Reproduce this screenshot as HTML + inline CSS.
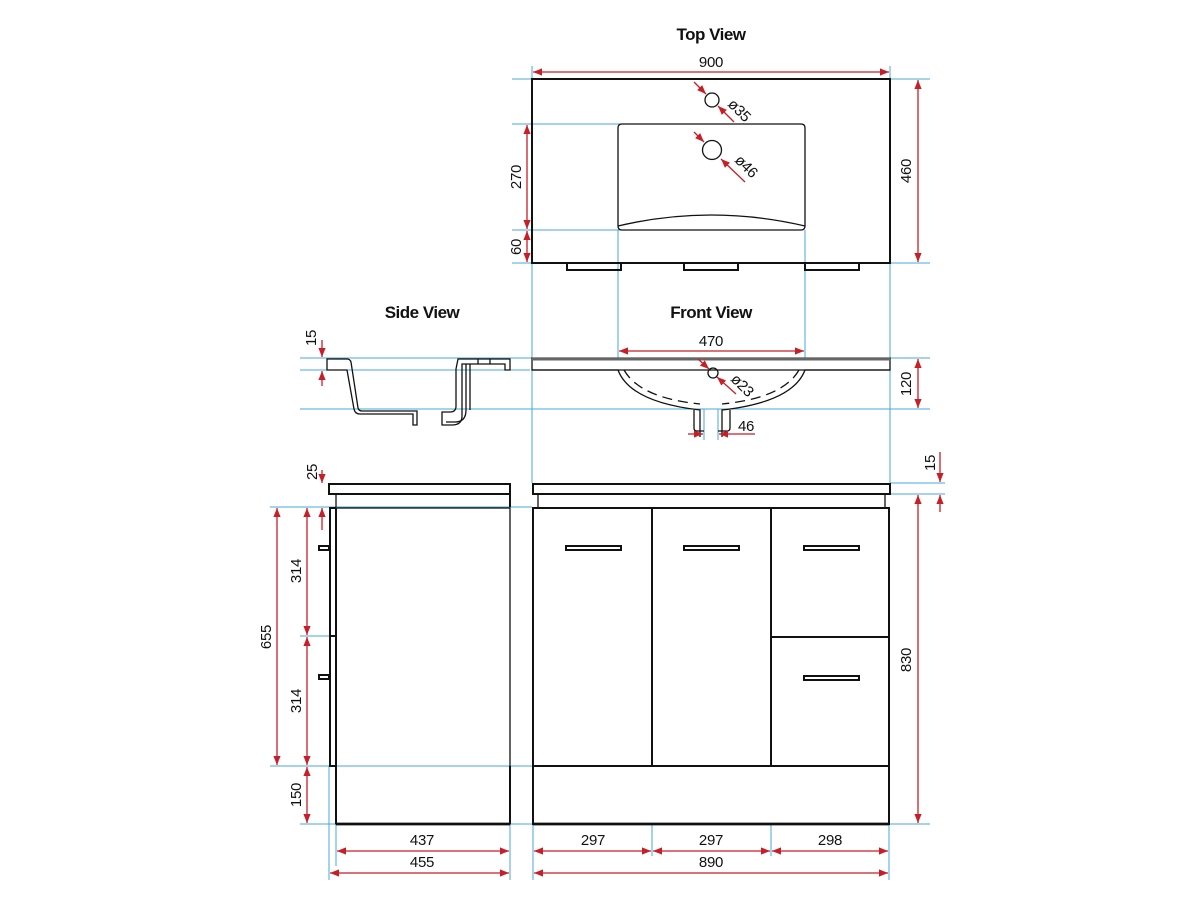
<!DOCTYPE html>
<html><head><meta charset="utf-8"><style>
html,body{margin:0;padding:0;background:#fff}
svg{display:block}
text{font-family:"Liberation Sans Narrow","Liberation Sans",sans-serif;font-size:15px;fill:#111;letter-spacing:-0.3px}
.t{font-weight:bold;font-size:17px;letter-spacing:-0.5px}
.c{stroke:#4aa8d8;stroke-width:1;fill:none}
.r{stroke:#c81e28;stroke-width:1.3;fill:none}
.k{stroke:#111;stroke-width:2;fill:none}
.kt{stroke:#111;stroke-width:1.3;fill:none}
</style></head><body>
<svg width="1200" height="900" viewBox="0 0 1200 900" xmlns="http://www.w3.org/2000/svg">
<defs>
<marker id="a" viewBox="0 0 10 10" refX="10" refY="5" markerWidth="9" markerHeight="9" orient="auto-start-reverse" markerUnits="userSpaceOnUse"><path d="M0,1 L10,5 L0,9 z" fill="#c81e28"/></marker>
</defs>

<text class="t" x="711" y="40" text-anchor="middle">Top View</text>
<text class="t" x="422" y="318" text-anchor="middle">Side View</text>
<text class="t" x="711" y="318" text-anchor="middle">Front View</text>

<g class="c">
<line x1="512" y1="79" x2="930" y2="79"/>
<line x1="512" y1="263" x2="930" y2="263"/>
<line x1="512" y1="124" x2="710" y2="124"/>
<line x1="512" y1="230" x2="710" y2="230"/>
<line x1="532" y1="66" x2="532" y2="483"/>
<line x1="890" y1="66" x2="890" y2="483"/>
<line x1="618" y1="230" x2="618" y2="358"/>
<line x1="805" y1="230" x2="805" y2="358"/>
<line x1="300" y1="358" x2="930" y2="358"/>
<line x1="300" y1="370" x2="530" y2="370"/>
<line x1="300" y1="409" x2="930" y2="409"/>
<line x1="704" y1="409" x2="704" y2="440"/>
<line x1="718" y1="409" x2="718" y2="440"/>
<line x1="890" y1="483" x2="945" y2="483"/>
<line x1="890" y1="494" x2="945" y2="494"/>
<line x1="270" y1="507" x2="532" y2="507"/>
<line x1="270" y1="766" x2="534" y2="766"/>
<line x1="300" y1="824" x2="930" y2="824"/>
<line x1="300" y1="636" x2="336" y2="636"/>
<line x1="329" y1="766" x2="329" y2="880"/>
<line x1="336" y1="824" x2="336" y2="866"/>
<line x1="510" y1="824" x2="510" y2="880"/>
<line x1="533" y1="824" x2="533" y2="880"/>
<line x1="652" y1="824" x2="652" y2="856"/>
<line x1="771" y1="824" x2="771" y2="856"/>
<line x1="889" y1="824" x2="889" y2="880"/>
</g>

<!-- TOP VIEW -->
<rect x="532" y="79" width="358" height="184" class="k"/>
<path d="M622,124 H801 Q805,124 805,128 V226 Q805,230 801,230 H622 Q618,230 618,226 V128 Q618,124 622,124 Z" class="kt"/>
<path d="M618,226 Q711,204 805,226" class="kt"/>
<circle cx="712" cy="100" r="7" class="kt"/>
<circle cx="712" cy="150" r="9.5" class="kt"/>
<g class="k" stroke-width="2.2">
<rect x="567" y="263" width="54" height="7"/>
<rect x="684" y="263" width="54" height="7"/>
<rect x="805" y="263" width="54" height="7"/>
</g>
<g class="r">
<line x1="533" y1="72" x2="889" y2="72" marker-start="url(#a)" marker-end="url(#a)"/>
<line x1="918" y1="80" x2="918" y2="262" marker-start="url(#a)" marker-end="url(#a)"/>
<line x1="527" y1="125" x2="527" y2="229" marker-start="url(#a)" marker-end="url(#a)"/>
<line x1="527" y1="231" x2="527" y2="262" marker-start="url(#a)" marker-end="url(#a)"/>
<line x1="694" y1="82" x2="706" y2="94" marker-end="url(#a)"/>
<line x1="734" y1="122" x2="718" y2="106" marker-end="url(#a)"/>
<line x1="694" y1="132" x2="704" y2="142" marker-end="url(#a)"/>
<line x1="745" y1="182" x2="721" y2="159" marker-end="url(#a)"/>
</g>
<text x="711" y="67" text-anchor="middle">900</text>
<text transform="translate(911,171) rotate(-90)" text-anchor="middle">460</text>
<text transform="translate(521,177) rotate(-90)" text-anchor="middle">270</text>
<text transform="translate(521,247) rotate(-90)" text-anchor="middle">60</text>
<text transform="translate(727,105) rotate(45)" font-size="15">ø35</text>
<text transform="translate(734,161) rotate(45)" font-size="15">ø46</text>

<!-- FRONT VIEW basin -->
<path d="M532,358 H890 V370 H532 Z" class="kt" fill="#fff"/>
<line x1="532" y1="359" x2="890" y2="359" stroke="#666" stroke-width="3"/>
<path d="M532,370 H618 Q630,402 700,410 V437" class="kt"/>
<path d="M890,370 H805 Q793,402 722,410 V437" class="kt"/>
<path d="M694,410 V428 Q694,431 697,431 H704" class="kt"/>
<path d="M730,410 V428 Q730,431 727,431 H718" class="kt"/>
<path d="M624,370 Q640,398 700,404" class="kt" stroke-dasharray="10,6"/>
<path d="M799,370 Q783,398 722,404" class="kt" stroke-dasharray="10,6"/>
<circle cx="713" cy="373" r="5" class="kt"/>
<g class="r">
<line x1="619" y1="351" x2="804" y2="351" marker-start="url(#a)" marker-end="url(#a)"/>
<line x1="918" y1="359" x2="918" y2="408" marker-start="url(#a)" marker-end="url(#a)"/>
<line x1="698" y1="359" x2="709" y2="369" marker-end="url(#a)"/>
<line x1="736" y1="394" x2="717" y2="377" marker-end="url(#a)"/>
<line x1="688" y1="434" x2="703" y2="434" marker-end="url(#a)"/>
<line x1="755" y1="434" x2="719" y2="434" marker-end="url(#a)"/>
</g>
<text x="711" y="346" text-anchor="middle">470</text>
<text transform="translate(911,384) rotate(-90)" text-anchor="middle">120</text>
<text transform="translate(730,380) rotate(45)" font-size="15">ø23</text>
<text x="746" y="431" text-anchor="middle">46</text>

<!-- SIDE VIEW basin -->
<path d="M327,359 H347 Q350,359 351,362 L358,408 Q359,411 362,411 H417 V425 H413 V414 H360 Q355,414 354,409 L347,370 H327 Z" class="kt"/>
<path d="M458,359 H510 V370 H505 V364 H462 V369 L462,416 Q462,425 452,425 H442 V412 H450 Q456,412 456,406 V369 Z" class="kt"/>
<path d="M466,364 V410 Q466,422 455,422 H446" class="kt"/>
<path d="M470,364 V410" class="kt"/>
<line x1="478" y1="359" x2="478" y2="364" class="kt"/>
<line x1="490" y1="359" x2="490" y2="364" class="kt"/>
<g class="r">
<line x1="322" y1="340" x2="322" y2="357" marker-end="url(#a)"/>
<line x1="322" y1="386" x2="322" y2="371" marker-end="url(#a)"/>
</g>
<text transform="translate(316,338) rotate(-90)" text-anchor="middle">15</text>

<!-- LOWER FRONT -->
<rect x="533" y="484" width="357" height="10" class="k" stroke-width="2.2"/>
<line x1="538" y1="494" x2="538" y2="507" class="kt"/>
<line x1="885" y1="494" x2="885" y2="507" class="kt"/>
<rect x="533" y="508" width="356" height="316" class="k"/>
<line x1="533" y1="824" x2="889" y2="824" stroke="#111" stroke-width="2.8"/>
<line x1="652" y1="508" x2="652" y2="766" class="k"/>
<line x1="771" y1="508" x2="771" y2="766" class="k"/>
<line x1="771" y1="637" x2="889" y2="637" class="k" stroke-width="2.5"/>
<line x1="533" y1="766" x2="889" y2="766" class="k" stroke-width="2.2"/>
<g class="k" stroke-width="2">
<rect x="566" y="546" width="55" height="4"/>
<rect x="684" y="546" width="55" height="4"/>
<rect x="804" y="546" width="55" height="4"/>
<rect x="804" y="676" width="55" height="4"/>
</g>
<g class="r">
<line x1="940" y1="452" x2="940" y2="482" marker-end="url(#a)"/>
<line x1="940" y1="512" x2="940" y2="495" marker-end="url(#a)"/>
<line x1="918" y1="495" x2="918" y2="823" marker-start="url(#a)" marker-end="url(#a)"/>
<line x1="534" y1="851" x2="651" y2="851" marker-start="url(#a)" marker-end="url(#a)"/>
<line x1="653" y1="851" x2="770" y2="851" marker-start="url(#a)" marker-end="url(#a)"/>
<line x1="772" y1="851" x2="888" y2="851" marker-start="url(#a)" marker-end="url(#a)"/>
<line x1="534" y1="873" x2="888" y2="873" marker-start="url(#a)" marker-end="url(#a)"/>
</g>
<text transform="translate(935,463) rotate(-90)" text-anchor="middle">15</text>
<text transform="translate(911,660) rotate(-90)" text-anchor="middle">830</text>
<text x="593" y="845" text-anchor="middle">297</text>
<text x="711" y="845" text-anchor="middle">297</text>
<text x="830" y="845" text-anchor="middle">298</text>
<text x="711" y="867" text-anchor="middle">890</text>

<!-- LOWER SIDE -->
<rect x="329" y="484" width="181" height="10" class="k" stroke-width="2.2"/>
<line x1="336" y1="494" x2="336" y2="507" class="kt"/>
<line x1="510" y1="494" x2="510" y2="507" class="k"/>
<rect x="336" y="508" width="174" height="316" class="kt"/>
<line x1="336" y1="508" x2="336" y2="824" class="k"/>
<line x1="336" y1="824" x2="510" y2="824" stroke="#111" stroke-width="2.8"/>
<line x1="510" y1="766" x2="510" y2="824" class="k"/>
<path d="M336,508 H330 V766 H336" class="k"/>
<line x1="330" y1="636" x2="336" y2="636" class="k"/>
<rect x="319" y="546" width="10" height="4" class="k"/>
<rect x="319" y="675" width="10" height="4" class="k"/>
<g class="r">
<line x1="277" y1="508" x2="277" y2="765" marker-start="url(#a)" marker-end="url(#a)"/>
<line x1="307" y1="508" x2="307" y2="635" marker-start="url(#a)" marker-end="url(#a)"/>
<line x1="307" y1="637" x2="307" y2="765" marker-start="url(#a)" marker-end="url(#a)"/>
<line x1="307" y1="767" x2="307" y2="823" marker-start="url(#a)" marker-end="url(#a)"/>
<line x1="322" y1="470" x2="322" y2="483" marker-end="url(#a)"/>
<line x1="322" y1="530" x2="322" y2="508" marker-end="url(#a)"/>
<line x1="337" y1="851" x2="509" y2="851" marker-start="url(#a)" marker-end="url(#a)"/>
<line x1="330" y1="873" x2="509" y2="873" marker-start="url(#a)" marker-end="url(#a)"/>
</g>
<text transform="translate(317,472) rotate(-90)" text-anchor="middle">25</text>
<text transform="translate(271,637) rotate(-90)" text-anchor="middle">655</text>
<text transform="translate(301,571) rotate(-90)" text-anchor="middle">314</text>
<text transform="translate(301,701) rotate(-90)" text-anchor="middle">314</text>
<text transform="translate(301,795) rotate(-90)" text-anchor="middle">150</text>
<text x="422" y="845" text-anchor="middle">437</text>
<text x="422" y="867" text-anchor="middle">455</text>
</svg>
</body></html>
